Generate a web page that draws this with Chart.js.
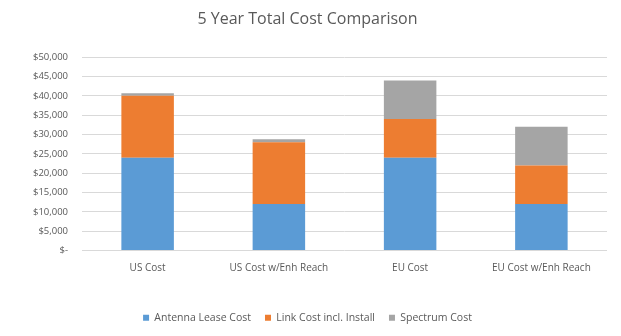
<!DOCTYPE html>
<html>
<head>
<meta charset="utf-8">
<script src="https://cdn.jsdelivr.net/npm/chart.js@4"></script>
<style>
  html, body { margin: 0; padding: 0; background: #fff; }
  #wrap { width: 621px; height: 336px; }
</style>
</head>
<body>
<div id="wrap"><canvas id="costChart"></canvas></div>
<script>
const categories = ['US Cost', 'US Cost w/Enh Reach', 'EU Cost', 'EU Cost w/Enh Reach'];
const antennaLease = [24000, 12000, 24000, 12000];
const linkCost = [16000, 16000, 10000, 10000];
const spectrumCost = [700, 750, 10000, 10000];

const textColor = '#595959';
const fontFamily = "'Open Sans', 'Liberation Sans', sans-serif";

new Chart(document.getElementById('costChart').getContext('2d'), {
    type: 'bar',
    data: {
        labels: categories,
        datasets: [{
            label: 'Antenna Lease Cost',
            data: antennaLease,
            backgroundColor: '#5b9bd5'
        }, {
            label: 'Link Cost incl. Install',
            data: linkCost,
            backgroundColor: '#ed7d31'
        }, {
            label: 'Spectrum Cost',
            data: spectrumCost,
            backgroundColor: '#a5a5a5'
        }]
    },
    options: {
        responsive: true,
        maintainAspectRatio: false,
        animation: false,
        layout: { padding: { left: 8, right: 14, top: 6, bottom: 3 } },
        datasets: {
            bar: { categoryPercentage: 1.0, barPercentage: 0.4 }
        },
        plugins: {
            title: {
                display: true,
                text: '5 Year Total Cost Comparison',
                color: textColor,
                font: { family: fontFamily, size: 16, weight: 'normal' },
                padding: { top: 4, bottom: 28 }
            },
            legend: {
                position: 'bottom',
                labels: {
                    color: textColor,
                    font: { family: fontFamily, size: 10.5 },
                    boxWidth: 6,
                    boxHeight: 6,
                    padding: 14
                }
            },
            tooltip: { enabled: false }
        },
        scales: {
            x: {
                stacked: true,
                grid: { display: false },
                border: { display: false },
                afterFit: function (axis) { axis.height = 48; },
                ticks: {
                    color: textColor,
                    font: { family: fontFamily, size: 10 },
                    maxRotation: 0,
                    padding: 4
                }
            },
            y: {
                stacked: true,
                min: 0,
                max: 50000,
                grid: { color: '#d9d9d9', drawTicks: false },
                border: { display: false },
                afterFit: function (axis) { axis.width = 74; },
                ticks: {
                    stepSize: 5000,
                    color: textColor,
                    font: { family: fontFamily, size: 9.5 },
                    padding: 14,
                    callback: function (v) {
                        if (v === 0) return '$-';
                        return '$' + v.toLocaleString('en-US');
                    }
                }
            }
        }
    }
});
</script>
</body>
</html>
